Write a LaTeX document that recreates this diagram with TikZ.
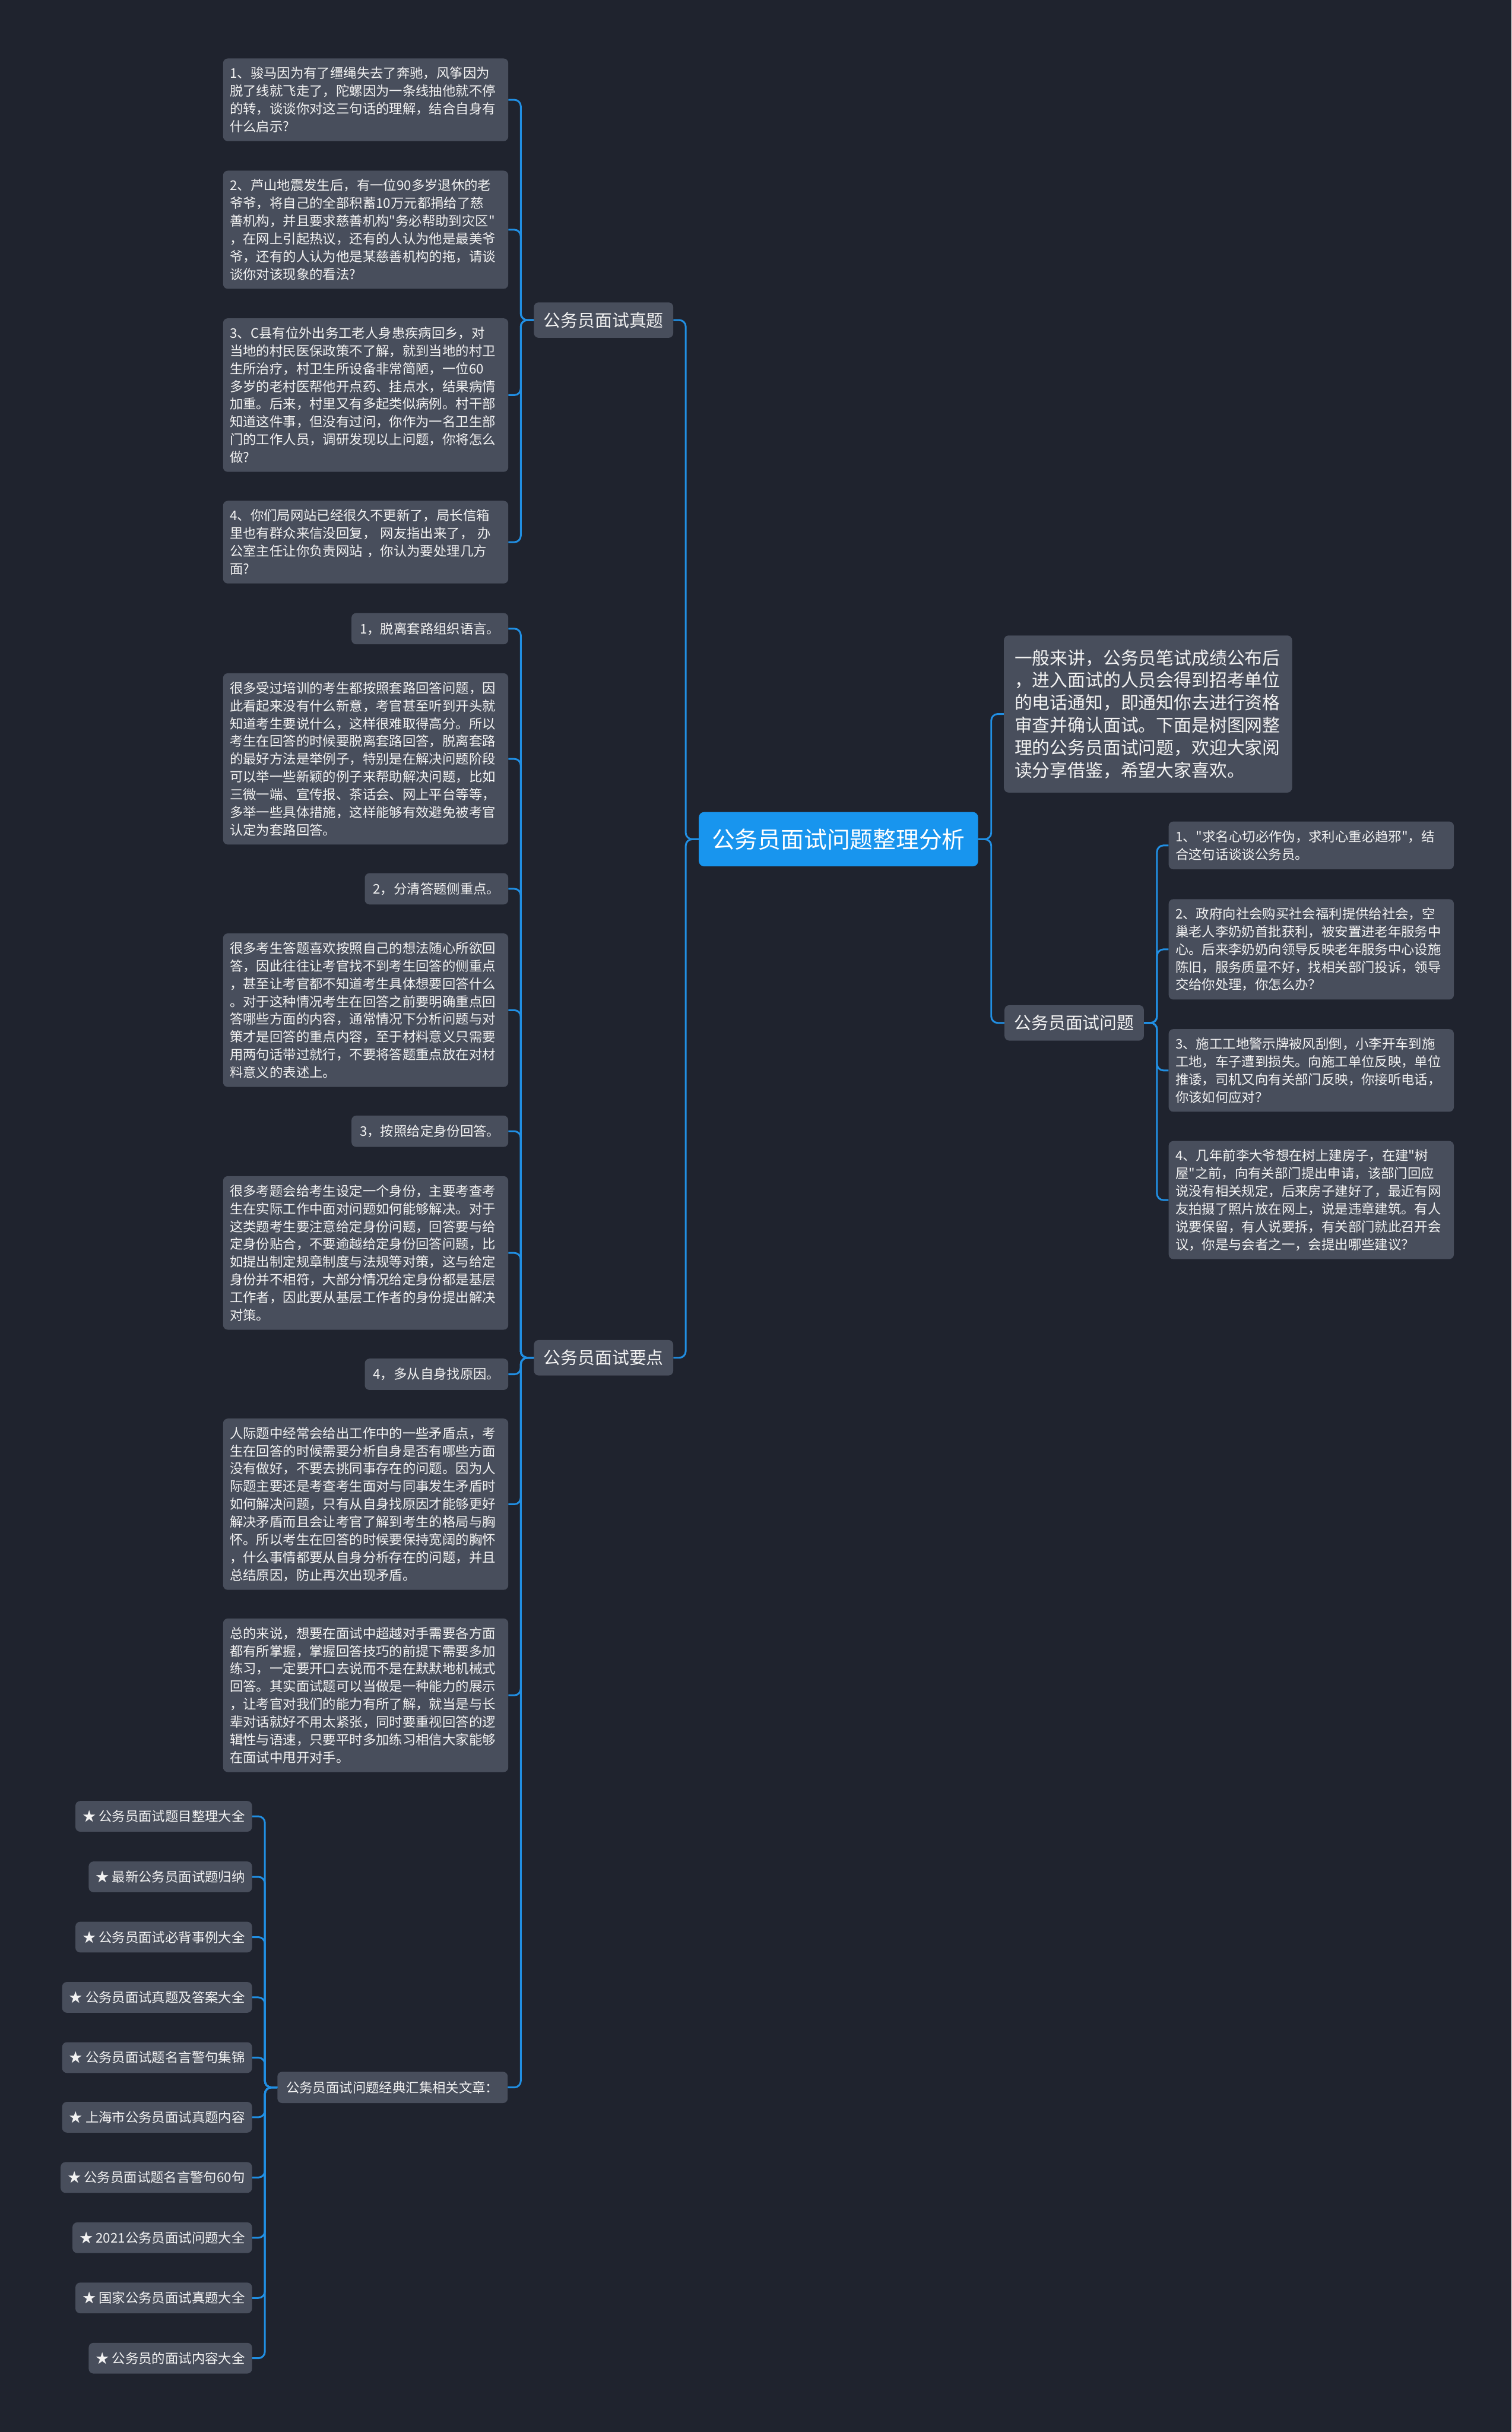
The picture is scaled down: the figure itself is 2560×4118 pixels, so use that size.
\documentclass[tikz,border=0pt]{standalone}
\usepackage{fontspec}
\setmainfont{Noto Sans CJK SC}[Ligatures=TeXOff]
\setlength{\parindent}{0pt}
\definecolor{bgc}{RGB}{31,35,46}
\definecolor{boxc}{RGB}{72,78,92}
\definecolor{linec}{RGB}{33,143,227}
\definecolor{rootc}{RGB}{24,149,238}
\definecolor{txtc}{RGB}{242,242,242}
\tikzset{
  box/.style={fill=boxc, rounded corners=8pt, text=txtc, inner sep=0pt,
    font=\fontsize{22.5}{30}\selectfont},
  para/.style={box, text width=460pt, inner xsep=11.5pt, align=left},
  keybox/.style={box, inner xsep=14pt, minimum height=53pt, anchor=east},
  starbox/.style={box, inner xsep=12pt, minimum height=52pt, anchor=east},
  branch/.style={box, inner xsep=16.5pt, minimum height=60pt,
    font=\fontsize{29}{36}\selectfont},
  rootbox/.style={fill=rootc, rounded corners=9pt, text=white, inner xsep=22pt,
    inner ysep=0pt, minimum height=92pt, font=\fontsize{39}{46}\selectfont},
  conn/.style={draw=linec, line width=3pt, rounded corners=11pt}
}
\begin{document}
\begin{tikzpicture}[x=1pt,y=-1pt]
\fill[bgc] (0,0) rectangle (2560,4118);
\useasboundingbox (0,0) rectangle (2560,4118);

% root
\node[rootbox] (root) at (1420,1421) {公务员面试问题整理分析};

% right side
\node[box, text width=452pt, inner xsep=18pt, align=left, minimum height=266pt,
  anchor=west, font=\fontsize{30}{38}\selectfont] (intro) at (1700,1209)
 {一般来讲，公务员笔试成绩公布后\\，进入面试的人员会得到招考单位\\的电话通知，即通知你去进行资格\\审查并确认面试。下面是树图网整\\理的公务员面试问题，欢迎大家阅\\读分享借鉴，希望大家喜欢。};
\node[branch, anchor=west] (wenti) at (1701,1732) {公务员面试问题};

\node[para, anchor=west, minimum height=81pt] (r1) at (1979,1431.5)
 {1、"求名心切必作伪，求利心重必趋邪"，结\\合这句话谈谈公务员。};
\node[para, anchor=west, minimum height=170pt] (r2) at (1979,1607.5)
 {2、政府向社会购买社会福利提供给社会，空\\巢老人李奶奶首批获利，被安置进老年服务中\\心。后来李奶奶向领导反映老年服务中心设施\\陈旧，服务质量不好，找相关部门投诉，领导\\交给你处理，你怎么办？};
\node[para, anchor=west, minimum height=140pt] (r3) at (1979,1812.5)
 {3、施工工地警示牌被风刮倒，小李开车到施\\工地，车子遭到损失。向施工单位反映，单位\\推诿，司机又向有关部门反映，你接听电话，\\你该如何应对？};
\node[para, anchor=west, minimum height=200pt] (r4) at (1979,2032)
 {4、几年前李大爷想在树上建房子，在建"树\\屋"之前，向有关部门提出申请，该部门回应\\说没有相关规定，后来房子建好了，最近有网\\友拍摄了照片放在网上，说是违章建筑。有人\\说要保留，有人说要拆，有关部门就此召开会\\议，你是与会者之一，会提出哪些建议？};

% left branches
\node[branch, anchor=west] (zhenti) at (904,542) {公务员面试真题};
\node[branch, anchor=west] (yaodian) at (904,2299) {公务员面试要点};

% 真题 children
\node[para, anchor=east, minimum height=140pt] (q1) at (861,169)
 {1、骏马因为有了缰绳失去了奔驰，风筝因为\\脱了线就飞走了，陀螺因为一条线抽他就不停\\的转，谈谈你对这三句话的理解，结合自身有\\什么启示?};
\node[para, anchor=east, minimum height=200pt] (q2) at (861,389)
 {2、芦山地震发生后，有一位90多岁退休的老\\爷爷，将自己的全部积蓄10万元都捐给了慈\\善机构，并且要求慈善机构"务必帮助到灾区"\\，在网上引起热议，还有的人认为他是最美爷\\爷，还有的人认为他是某慈善机构的拖，请谈\\谈你对该现象的看法?};
\node[para, anchor=east, minimum height=260pt] (q3) at (861,669)
 {3、C县有位外出务工老人身患疾病回乡，对\\当地的村民医保政策不了解，就到当地的村卫\\生所治疗，村卫生所设备非常简陋，一位60\\多岁的老村医帮他开点药、挂点水，结果病情\\加重。后来，村里又有多起类似病例。村干部\\知道这件事，但没有过问，你作为一名卫生部\\门的工作人员，调研发现以上问题，你将怎么\\做?};
\node[para, anchor=east, minimum height=140pt] (q4) at (861,918)
 {4、你们局网站已经很久不更新了，局长信箱\\里也有群众来信没回复，\ 网友指出来了，\ 办\\公室主任让你负责网站\ ，你认为要处理几方\\面?};

% 要点 children
\node[keybox] (k1) at (861,1064.5) {1，脱离套路组织语言。};
\node[para, anchor=east, minimum height=290pt] (t1) at (861,1285)
 {很多受过培训的考生都按照套路回答问题，因\\此看起来没有什么新意，考官甚至听到开头就\\知道考生要说什么，这样很难取得高分。所以\\考生在回答的时候要脱离套路回答，脱离套路\\的最好方法是举例子，特别是在解决问题阶段\\可以举一些新颖的例子来帮助解决问题，比如\\三微一端、宣传报、茶话会、网上平台等等，\\多举一些具体措施，这样能够有效避免被考官\\认定为套路回答。};
\node[keybox] (k2) at (861,1505) {2，分清答题侧重点。};
\node[para, anchor=east, minimum height=260pt] (t2) at (861,1710.5)
 {很多考生答题喜欢按照自己的想法随心所欲回\\答，因此往往让考官找不到考生回答的侧重点\\，甚至让考官都不知道考生具体想要回答什么\\。对于这种情况考生在回答之前要明确重点回\\答哪些方面的内容，通常情况下分析问题与对\\策才是回答的重点内容，至于材料意义只需要\\用两句话带过就行，不要将答题重点放在对材\\料意义的表述上。};
\node[keybox] (k3) at (861,1915.5) {3，按照给定身份回答。};
\node[para, anchor=east, minimum height=260pt] (t3) at (861,2121.5)
 {很多考题会给考生设定一个身份，主要考查考\\生在实际工作中面对问题如何能够解决。对于\\这类题考生要注意给定身份问题，回答要与给\\定身份贴合，不要逾越给定身份回答问题，比\\如提出制定规章制度与法规等对策，这与给定\\身份并不相符，大部分情况给定身份都是基层\\工作者，因此要从基层工作者的身份提出解决\\对策。};
\node[keybox] (k4) at (861,2327) {4，多从自身找原因。};
\node[para, anchor=east, minimum height=290pt] (t4) at (861,2547)
 {人际题中经常会给出工作中的一些矛盾点，考\\生在回答的时候需要分析自身是否有哪些方面\\没有做好，不要去挑同事存在的问题。因为人\\际题主要还是考查考生面对与同事发生矛盾时\\如何解决问题，只有从自身找原因才能够更好\\解决矛盾而且会让考官了解到考生的格局与胸\\怀。所以考生在回答的时候要保持宽阔的胸怀\\，什么事情都要从自身分析存在的问题，并且\\总结原因，防止再次出现矛盾。};
\node[para, anchor=east, minimum height=260pt] (t5) at (861,2870.5)
 {总的来说，想要在面试中超越对手需要各方面\\都有所掌握，掌握回答技巧的前提下需要多加\\练习，一定要开口去说而不是在默默地机械式\\回答。其实面试题可以当做是一种能力的展示\\，让考官对我们的能力有所了解，就当是与长\\辈对话就好不用太紧张，同时要重视回答的逻\\辑性与语速，只要平时多加练习相信大家能够\\在面试中甩开对手。};
\node[box, inner xsep=15pt, minimum height=53pt, anchor=east] (jd) at (860,3534.5)
 {公务员面试问题经典汇集相关文章：};

% star list
\node[starbox] (s1) at (427,3075.5) {★ 公务员面试题目整理大全};
\node[starbox] (s2) at (427,3178) {★ 最新公务员面试题归纳};
\node[starbox] (s3) at (427,3280) {★ 公务员面试必背事例大全};
\node[starbox] (s4) at (427,3382) {★ 公务员面试真题及答案大全};
\node[starbox] (s5) at (427,3484) {★ 公务员面试题名言警句集锦};
\node[starbox] (s6) at (427,3585) {★ 上海市公务员面试真题内容};
\node[starbox] (s7) at (427,3687) {★ 公务员面试题名言警句60句};
\node[starbox] (s8) at (427,3789) {★ 2021公务员面试问题大全};
\node[starbox] (s9) at (427,3891) {★ 国家公务员面试真题大全};
\node[starbox] (s10) at (427,3993) {★ 公务员的面试内容大全};

% connectors
\foreach \c in {zhenti,yaodian}
  \draw[conn] (root.west) -- ++(-22,0) |- (\c.east);
\foreach \c in {intro,wenti}
  \draw[conn] (root.east) -- ++(22,0) |- (\c.west);
\foreach \c in {r1,r2,r3,r4}
  \draw[conn] (wenti.east) -- ++(22,0) |- (\c.west);
\foreach \c in {q1,q2,q3,q4}
  \draw[conn] (zhenti.west) -- ++(-22,0) |- (\c.east);
\foreach \c in {k1,t1,k2,t2,k3,t3,k4,t4,t5,jd}
  \draw[conn] (yaodian.west) -- ++(-22,0) |- (\c.east);
\foreach \c in {s1,s2,s3,s4,s5,s6,s7,s8,s9,s10}
  \draw[conn] (jd.west) -- ++(-21,0) |- (\c.east);
\end{tikzpicture}
\end{document}
